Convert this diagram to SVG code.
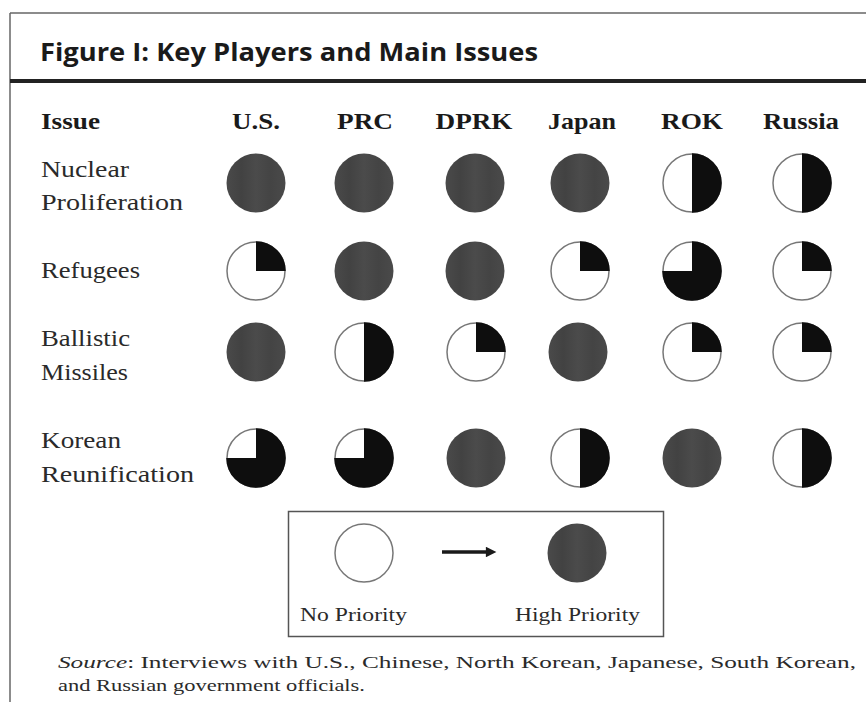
<svg xmlns="http://www.w3.org/2000/svg" xmlns:xlink="http://www.w3.org/1999/xlink" width="866" height="702" viewBox="0 0 866 702">
  <style>
    .title { font-family: "Open Sans", "DejaVu Sans", sans-serif; font-weight: 700; font-size: 25px; fill: #1a1a1a; }
    .head { font-family: "Liberation Serif", "DejaVu Serif", serif; font-weight: 700; font-size: 23.5px; fill: #1a1a1a; }
    .row { font-family: "Liberation Serif", "DejaVu Serif", serif; font-size: 23px; fill: #2a2a2a; }
    .leg { font-family: "Liberation Serif", "DejaVu Serif", serif; font-size: 19px; fill: #2a2a2a; }
    .src { font-family: "Liberation Serif", "DejaVu Serif", serif; font-size: 17.5px; fill: #2a2a2a; }
    .frame { stroke: #666; stroke-width: 1.5; fill: none; }
    .outline { fill: #fff; stroke: #777; stroke-width: 1.5; }
    .blk { fill: #0e0e0e; }
    .full { fill: url(#g); }
  </style>
  <defs>
    <linearGradient id="g" x1="0" y1="0" x2="1" y2="0">
      <stop offset="0" stop-color="#4a4a4a"/>
      <stop offset="0.25" stop-color="#424242"/>
      <stop offset="0.5" stop-color="#4b4b4b"/>
      <stop offset="0.75" stop-color="#444"/>
      <stop offset="1" stop-color="#4a4a4a"/>
    </linearGradient>
    <g id="c-full"><circle r="29.5" class="full"/></g>
    <g id="c-empty"><circle r="29" class="outline"/></g>
    <g id="c-half"><circle r="29" class="outline"/><path class="blk" d="M0,-29.75 A29.75,29.75 0 0 1 0,29.75 Z"/></g>
    <g id="c-quarter"><circle r="29" class="outline"/><path class="blk" d="M0,0 L0,-29.75 A29.75,29.75 0 0 1 29.75,0 Z"/></g>
    <g id="c-three"><circle r="29" class="outline"/><path class="blk" d="M0,0 L0,-29.75 A29.75,29.75 0 1 1 -29.75,0 Z"/></g>
    <marker id="ah" viewBox="0 0 10 10" refX="2" refY="5" markerWidth="4" markerHeight="3" orient="auto" markerUnits="strokeWidth">
      <path d="M0,0 L10,5 L0,10 Z" fill="#1a1a1a"/>
    </marker>
  </defs>

  <rect width="866" height="702" fill="#fff"/>

  <g id="frame">
    <line class="frame" x1="10" y1="13" x2="866" y2="13"/>
    <line class="frame" x1="10" y1="13" x2="10" y2="702"/>
    <line x1="10" y1="81" x2="866" y2="81" stroke="#222" stroke-width="4"/>
  </g>

  <g id="title">
    <text class="title" x="40" y="61" textLength="498" lengthAdjust="spacingAndGlyphs">Figure I: Key Players and Main Issues</text>
  </g>

  <g id="header">
    <text class="head" x="41" y="129" textLength="59" lengthAdjust="spacingAndGlyphs">Issue</text>
    <text class="head" x="256" y="129" text-anchor="middle" textLength="48" lengthAdjust="spacingAndGlyphs">U.S.</text>
    <text class="head" x="365" y="129" text-anchor="middle" textLength="56" lengthAdjust="spacingAndGlyphs">PRC</text>
    <text class="head" x="474" y="129" text-anchor="middle" textLength="77" lengthAdjust="spacingAndGlyphs">DPRK</text>
    <text class="head" x="582" y="129" text-anchor="middle" textLength="68" lengthAdjust="spacingAndGlyphs">Japan</text>
    <text class="head" x="692" y="129" text-anchor="middle" textLength="62" lengthAdjust="spacingAndGlyphs">ROK</text>
    <text class="head" x="801" y="129" text-anchor="middle" textLength="76" lengthAdjust="spacingAndGlyphs">Russia</text>
  </g>

  <g id="row-nuclear">
    <text class="row" x="41" y="177" textLength="88" lengthAdjust="spacingAndGlyphs">Nuclear</text>
    <text class="row" x="41" y="210" textLength="142" lengthAdjust="spacingAndGlyphs">Proliferation</text>
    <use xlink:href="#c-full" x="256" y="183"/>
    <use xlink:href="#c-full" x="364" y="183"/>
    <use xlink:href="#c-full" x="475" y="183"/>
    <use xlink:href="#c-full" x="580" y="183"/>
    <use xlink:href="#c-half" x="692" y="183"/>
    <use xlink:href="#c-half" x="802" y="183"/>
  </g>

  <g id="row-refugees">
    <text class="row" x="41" y="278" textLength="99" lengthAdjust="spacingAndGlyphs">Refugees</text>
    <use xlink:href="#c-quarter" x="256" y="271"/>
    <use xlink:href="#c-full" x="364" y="271"/>
    <use xlink:href="#c-full" x="475" y="271"/>
    <use xlink:href="#c-quarter" x="580" y="271"/>
    <use xlink:href="#c-three" x="692" y="271"/>
    <use xlink:href="#c-quarter" x="802" y="271"/>
  </g>

  <g id="row-missiles">
    <text class="row" x="41" y="346" textLength="89" lengthAdjust="spacingAndGlyphs">Ballistic</text>
    <text class="row" x="41" y="380" textLength="87" lengthAdjust="spacingAndGlyphs">Missiles</text>
    <use xlink:href="#c-full" x="256" y="352"/>
    <use xlink:href="#c-half" x="364" y="352"/>
    <use xlink:href="#c-quarter" x="476" y="352"/>
    <use xlink:href="#c-full" x="578" y="352"/>
    <use xlink:href="#c-quarter" x="692" y="352"/>
    <use xlink:href="#c-quarter" x="802" y="352"/>
  </g>

  <g id="row-reunification">
    <text class="row" x="41" y="448" textLength="80" lengthAdjust="spacingAndGlyphs">Korean</text>
    <text class="row" x="41" y="482" textLength="153" lengthAdjust="spacingAndGlyphs">Reunification</text>
    <use xlink:href="#c-three" x="256" y="458"/>
    <use xlink:href="#c-three" x="364" y="458"/>
    <use xlink:href="#c-full" x="476" y="458"/>
    <use xlink:href="#c-half" x="580" y="458"/>
    <use xlink:href="#c-full" x="692" y="458"/>
    <use xlink:href="#c-half" x="802" y="458"/>
  </g>

  <g id="legend">
    <rect x="288.5" y="511.5" width="375" height="125" fill="#fff" stroke="#555" stroke-width="1.5"/>
    <use xlink:href="#c-empty" x="364" y="553"/>
    <use xlink:href="#c-full" x="577" y="553"/>
    <text class="leg" x="300" y="621" textLength="107" lengthAdjust="spacingAndGlyphs">No Priority</text>
    <text class="leg" x="515" y="621" textLength="125" lengthAdjust="spacingAndGlyphs">High Priority</text>
  </g>

  <g id="connectors">
    <line x1="442" y1="552" x2="488" y2="552" stroke="#1a1a1a" stroke-width="3.5" marker-end="url(#ah)"/>
  </g>

  <g id="source">
    <text class="src" x="58" y="668" textLength="798" lengthAdjust="spacingAndGlyphs"><tspan font-style="italic">Source</tspan>: Interviews with U.S., Chinese, North Korean, Japanese, South Korean,</text>
    <text class="src" x="58" y="691" textLength="307" lengthAdjust="spacingAndGlyphs">and Russian government officials.</text>
  </g>
</svg>
